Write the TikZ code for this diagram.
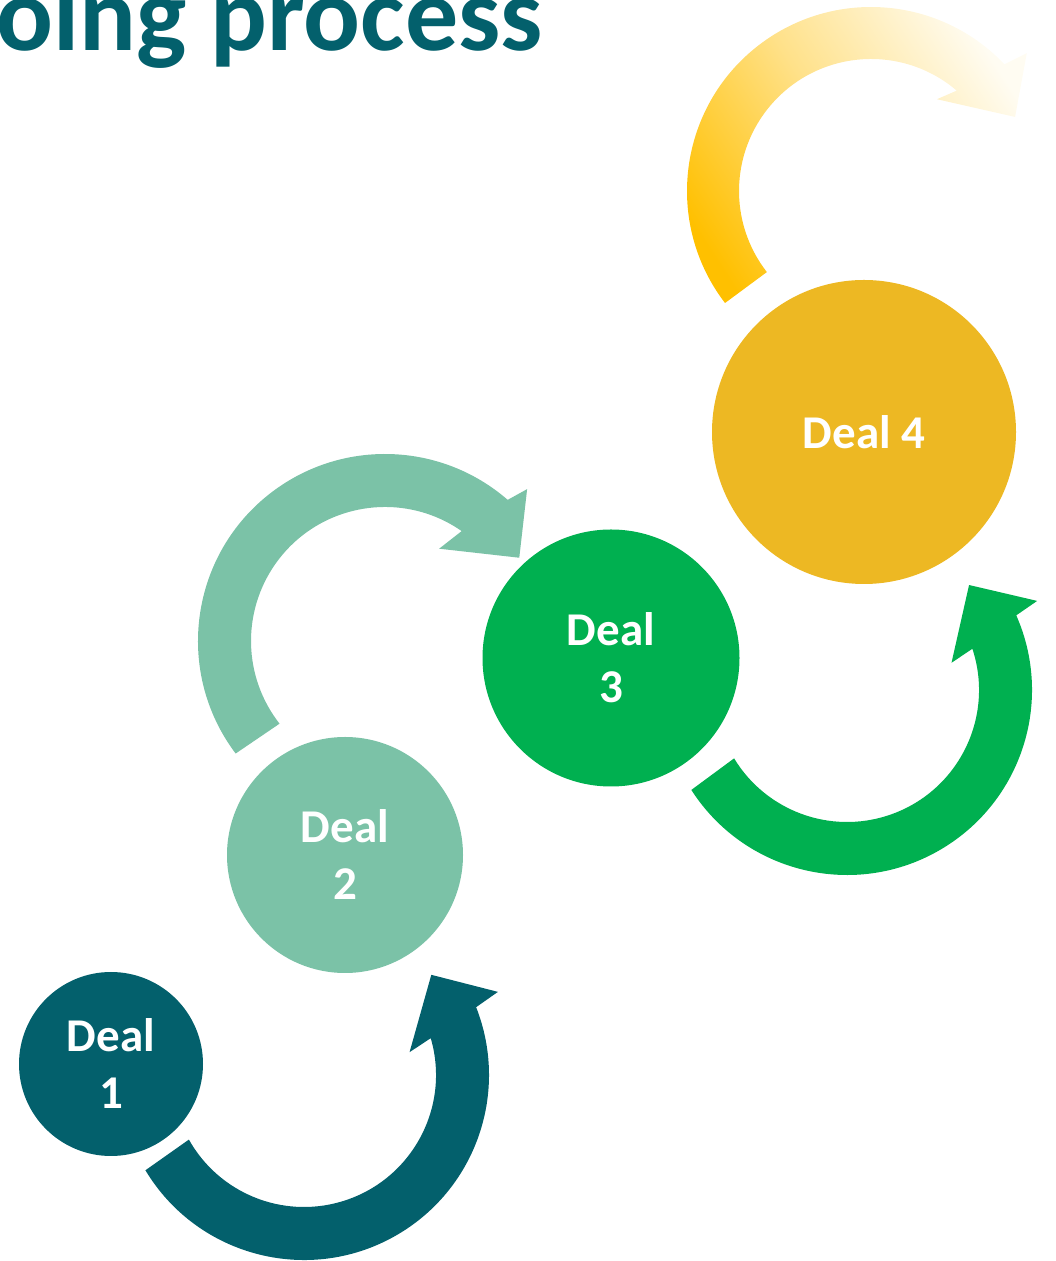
\documentclass[tikz,border=0pt]{standalone}
\usepackage{fontspec}
\setmainfont{Carlito}
\begin{document}
\begin{tikzpicture}[x=1pt,y=1pt]
  % palette
  \definecolor{dealteal}{HTML}{03606C}
  \definecolor{dealmint}{HTML}{7BC2A7}
  \definecolor{dealgreen}{HTML}{00B050}
  \definecolor{dealgold}{HTML}{EDB823}
  \definecolor{goldstart}{HTML}{FFC000}
  \definecolor{goldmid}{HTML}{FFE189}
  \definecolor{goldend}{HTML}{FFFCF2}
  \tikzset{
    dealdisc/.style={circle, inner sep=0pt, text=white, align=center,
      font=\fontsize{47}{57}\selectfont\bfseries},
    titletext/.style={inner sep=0pt, text=dealteal,
      font=\fontsize{106}{127}\selectfont\bfseries}
  }
  \useasboundingbox (0,0) rectangle (1056,1261);

  % heading, running off the left edge
  \node[titletext, anchor=base west] (title) at (-4,1210) {oing process};

  % centres of the ring arrows
  \coordinate (a1) at (304,186);
  \coordinate (a2) at (385,620);
  \coordinate (a3) at (847,571);
  \coordinate (a4) at (871,1070);

  % ring arrow from deal 1 towards deal 2
  \begin{scope}[shift={(a1)}]
    \fill[dealteal] (211:185) arc[start angle=211, end angle=381.5, radius=185]
      -- (383.2:211) -- (398.2:162) -- (372.2:108) -- (376.2:132)
      arc[start angle=376.2, end angle=209.3, radius=132] -- cycle;
  \end{scope}

  % ring arrow from deal 2 towards deal 3
  \begin{scope}[shift={(a2)}]
    \fill[dealmint] (217:187) arc[start angle=217, end angle=49, radius=187]
      -- (46.9:208) -- (31.8:158) -- (59.6:107) -- (55.1:134)
      arc[start angle=55.1, end angle=218.1, radius=134] -- cycle;
  \end{scope}

  % ring arrow from deal 3 towards deal 4
  \begin{scope}[shift={(a3)}]
    \fill[dealgreen] (212.7:185) arc[start angle=212.7, end angle=383.8, radius=185]
      -- (385.1:210) -- (400.7:161) -- (374.6:108) -- (378.2:132)
      arc[start angle=378.2, end angle=211.2, radius=132] -- cycle;
  \end{scope}

  % fading ring arrow leaving deal 4
  \begin{scope}[shift={(a4)}]
    \shade[bottom color=goldstart, top color=goldend, middle color=goldmid,
      shading angle=-57]
      (217.5:184) arc[start angle=217.5, end angle=43.5, radius=184]
      -- (41.5:208) -- (27.2:162) -- (54.3:113) -- (49.5:132)
      arc[start angle=49.5, end angle=217.9, radius=132] -- cycle;
  \end{scope}

  % the deals
  \node[dealdisc, fill=dealteal,  minimum size=184pt] (d1) at (111,197) {Deal\\1};
  \node[dealdisc, fill=dealmint,  minimum size=236pt] (d2) at (345,406) {Deal\\2};
  \node[dealdisc, fill=dealgreen, minimum size=257pt] (d3) at (611,603) {Deal\\3};
  \node[dealdisc, fill=dealgold,  minimum size=304pt] (d4) at (864,829) {Deal 4};
\end{tikzpicture}
\end{document}
